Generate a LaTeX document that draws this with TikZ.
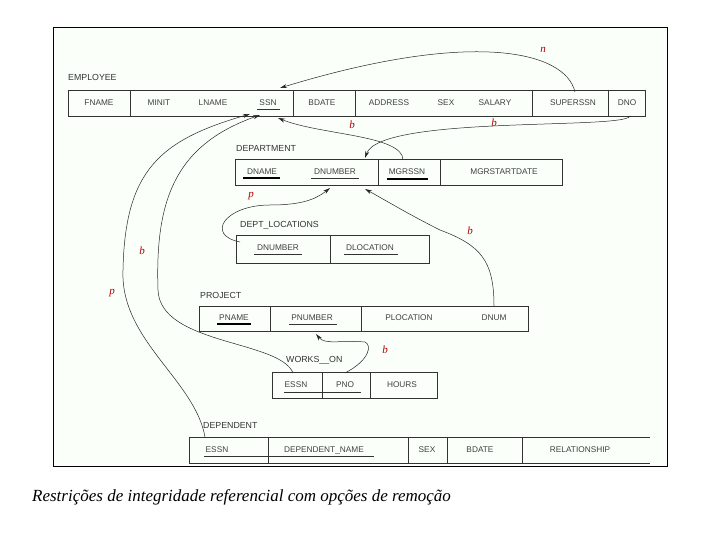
\documentclass[tikz,border=0pt]{standalone}
\usepackage{fontspec}
\setmainfont{Liberation Sans}
\newfontfamily\capfont{Liberation Serif}
\usetikzlibrary{arrows.meta}
\begin{document}
\begin{tikzpicture}[x=1pt,y=-1pt,
  tab/.style={draw=black!80,line width=0.6pt},
  t/.style={font=\fontsize{8.3}{9}\selectfont,text=black!75,inner sep=0pt},
  lab/.style={font=\fontsize{8.8}{10}\selectfont,text=black!80,anchor=west,inner sep=0pt},
  ul/.style={draw=black!80,line width=0.5pt},
  thick ul/.style={draw=black,line width=2pt},
  ref/.style={draw=black!85,line width=0.5pt,-{Stealth[length=7pt,width=4pt]}},
  c/.style={font=\capfont\itshape\fontsize{11}{12}\selectfont,text=red!70!black,inner sep=0pt}]
\useasboundingbox (0,0) rectangle (720,540);
\fill[white] (0,0) rectangle (720,540);
\draw[black,line width=0.7pt,fill=green!2!white] (53,27) rectangle (667,466);
% EMPLOYEE
\node[lab] (le) at (68,77) {EMPLOYEE};
\draw[tab] (68,90) rectangle (645,116);
\foreach \x in {130,293,355,532,608} \draw[tab] (\x,90) -- (\x,116);
\node[t] (fname) at (99,103) {FNAME};
\node[t] (minit) at (159,103) {MINIT};
\node[t] (lname) at (213,103) {LNAME};
\node[t] (ssn) at (268,103) {SSN};
\node[t] (bdate) at (322,103) {BDATE};
\node[t] (addr) at (389,103) {ADDRESS};
\node[t] (sex) at (446,103) {SEX};
\node[t] (sal) at (495,103) {SALARY};
\node[t] (super) at (573,103) {SUPERSSN};
\node[t] (dno) at (627,103) {DNO};
\draw[ul] (257,109) -- (280,109);
% DEPARTMENT
\node[lab] (ld) at (236,148) {DEPARTMENT};
\draw[tab] (235,159) rectangle (562,185);
\foreach \x in {378,440} \draw[tab] (\x,159) -- (\x,185);
\node[t] (dname) at (262,172) {DNAME};
\node[t] (dnum) at (335,172) {DNUMBER};
\node[t] (mgr) at (407,172) {MGRSSN};
\node[t] (mgrd) at (504,172) {MGRSTARTDATE};
\draw[thick ul] (243,178) -- (280,178);
\draw[ul] (311,178) -- (359,178);
\draw[thick ul] (387,179) -- (428,179);
% DEPT_LOCATIONS
\node[lab] (ldl) at (240,225) {DEPT\_LOCATIONS};
\draw[tab] (236,235) rectangle (429,263);
\draw[tab] (330,235) -- (330,263);
\node[t] (dlnum) at (278,248) {DNUMBER};
\node[t] (dloc) at (370,248) {DLOCATION};
\draw[ul] (254,254) -- (302,254);
\draw[ul] (344,254) -- (398,254);
% PROJECT
\node[lab] (lp) at (200,295) {PROJECT};
\draw[tab] (199,306) rectangle (528,331);
\foreach \x in {270,361} \draw[tab] (\x,306) -- (\x,331);
\node[t] (pname) at (234,318) {PNAME};
\node[t] (pnum) at (312,318) {PNUMBER};
\node[t] (ploc) at (409,318) {PLOCATION};
\node[t] (dnum2) at (494,318) {DNUM};
\draw[thick ul] (217,324) -- (251,324);
\draw[ul] (289,324) -- (337,324);
% WORKS_ON
\node[lab] (lw) at (286,360) {WORKS\_\_ON};
\draw[tab] (272,372) rectangle (437,398);
\foreach \x in {322,370} \draw[tab] (\x,372) -- (\x,398);
\node[t] (wessn) at (296,385) {ESSN};
\node[t] (wpno) at (345,385) {PNO};
\node[t] (hours) at (402,385) {HOURS};
\draw[ul] (284,392) -- (361,392);
% DEPENDENT
\node[lab] (ldep) at (203,425) {DEPENDENT};
\draw[tab] (650,437) -- (189,437) -- (189,463) -- (650,463);
\foreach \x in {268,408,447,522} \draw[tab] (\x,437) -- (\x,463);
\node[t] (dessn) at (217,450) {ESSN};
\node[t] (dname2) at (324,450) {DEPENDENT\_NAME};
\node[t] (dsex) at (427,450) {SEX};
\node[t] (dbd) at (480,450) {BDATE};
\node[t] (drel) at (580,450) {RELATIONSHIP};
\draw[ul] (204,456) -- (374,456);
% coordinates
\coordinate (a1) at (575,92);
\coordinate (a1e) at (280,88);
\coordinate (a2) at (630,116);
\coordinate (a2e) at (365,158);
\coordinate (a3) at (403,160);
\coordinate (a3e) at (278,118);
\coordinate (a4) at (240,242);
\coordinate (a4e) at (330,188);
\coordinate (a5) at (494,306);
\coordinate (a5e) at (365,189);
\coordinate (a6) at (293,373);
\coordinate (a6e) at (260,115);
\coordinate (a7) at (345,373);
\coordinate (a7e) at (316,334);
\coordinate (a8) at (205,437);
\coordinate (a8e) at (250,114);
\draw[ref] (a1) .. controls (565,50) and (470,30) .. (a1e);
\draw[ref] (a2) .. controls (625,130) and (380,115) .. (a2e);
\draw[ref] (a3) .. controls (403,135) and (320,135) .. (a3e);
\draw[ref] (a4) .. controls (205,235) and (225,205) .. (270,205) .. controls (300,205) and (315,200) .. (a4e);
\draw[ref] (a5) .. controls (494,260) and (480,245) .. (440,230) .. controls (410,215) and (385,200) .. (a5e);
\draw[ref] (a6) .. controls (280,340) and (160,345) .. (158,290) .. controls (155,200) and (175,145) .. (a6e);
\draw[ref] (a7) .. controls (370,360) and (372,345) .. (365,342) .. controls (340,340) and (325,345) .. (a7e);
\draw[ref] (a8) .. controls (195,380) and (120,340) .. (123,270) .. controls (125,170) and (160,140) .. (a8e);
% labels
\node[c] (ln) at (543,50) {n};
\node[c] (lb1) at (494,123) {b};
\node[c] (lb2) at (352,125) {b};
\node[c] (lp1) at (251,196) {p};
\node[c] (lb3) at (470,231) {b};
\node[c] (lb4) at (142,251) {b};
\node[c] (lp2) at (112,293) {p};
\node[c] (lb5) at (385,350) {b};
\node[font=\capfont\itshape\fontsize{17}{19}\selectfont,anchor=west,inner sep=0pt] (cap) at (32,497) {Restrições de integridade referencial com opções de remoção};
\end{tikzpicture}
\end{document}
